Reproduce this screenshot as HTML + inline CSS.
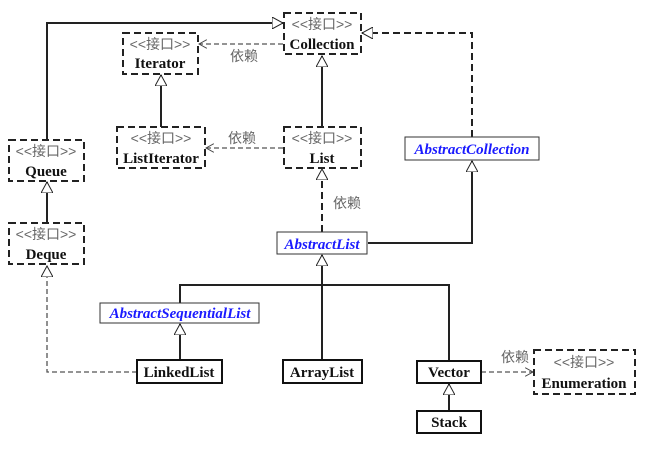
<!DOCTYPE html>
<html><head><meta charset="utf-8"><style>html,body{margin:0;padding:0;background:#fff;}svg{display:block}</style></head>
<body>
<svg width="661" height="467" viewBox="0 0 661 467" xmlns="http://www.w3.org/2000/svg">
<defs>
<marker id="tri" viewBox="0 0 12 12" refX="11" refY="6" markerWidth="12" markerHeight="12" markerUnits="userSpaceOnUse" orient="auto"><path d="M0,0 L11,6 L0,12 Z" fill="#fff" stroke="#222" stroke-width="1"/></marker>
<marker id="opn" viewBox="0 0 10 10" refX="9" refY="5" markerWidth="9" markerHeight="9" markerUnits="userSpaceOnUse" orient="auto"><path d="M0,0 L9,5 L0,10" fill="none" stroke="#444" stroke-width="1"/></marker>
</defs>
<g fill="none" stroke="#222" stroke-width="2">
<!-- solid generalizations -->
<path d="M47 140 V23 H283" marker-end="url(#tri)"/>
<path d="M161 127 V75" marker-end="url(#tri)"/>
<path d="M322 127 V56" marker-end="url(#tri)"/>
<path d="M47 223 V182" marker-end="url(#tri)"/>
<path d="M368 243 H472 V161" marker-end="url(#tri)"/>
<path d="M322 285 V255" marker-end="url(#tri)"/>
<path d="M180 303 V285 H449 V361"/>
<path d="M322 285 V360"/>
<path d="M180 360 V324" marker-end="url(#tri)"/>
<path d="M449 411 V384" marker-end="url(#tri)"/>
</g>
<g fill="none" stroke="#222" stroke-width="2" stroke-dasharray="7,4">
<path d="M472 137 V33 H362" marker-end="url(#tri)"/>
<path d="M322 232 V169" marker-end="url(#tri)"/>
</g>
<g fill="none" stroke="#555" stroke-width="1.3" stroke-dasharray="5,3">
<path d="M137 372 H47 V266" stroke="#555" marker-end="url(#tri)"/>
<path d="M283 44 H199" marker-end="url(#opn)"/>
<path d="M283 148 H206" marker-end="url(#opn)"/>
<path d="M481 372 H533" marker-end="url(#opn)"/>
</g>
<!-- interface boxes -->
<g fill="#fff" stroke="#222" stroke-width="2" stroke-dasharray="7,4">
<rect x="284" y="13" width="77" height="41"/>
<rect x="123" y="33" width="75" height="41"/>
<rect x="117" y="127" width="88" height="41"/>
<rect x="284" y="127" width="77" height="41"/>
<rect x="9" y="140" width="75" height="41"/>
<rect x="9" y="223" width="75" height="41"/>
<rect x="534" y="350" width="101" height="44"/>
</g>
<g fill="#fff" stroke="#333" stroke-width="1">
<rect x="405" y="137" width="134" height="23"/>
<rect x="277" y="232" width="90" height="22"/>
<rect x="100" y="303" width="159" height="20"/>
</g>
<g fill="#fff" stroke="#111" stroke-width="2">
<rect x="137" y="360" width="85" height="23"/>
<rect x="283" y="360" width="79" height="23"/>
<rect x="417" y="361" width="64" height="22"/>
<rect x="417" y="411" width="64" height="22"/>
</g>
<g font-family="'Liberation Sans','Noto Sans CJK SC',sans-serif" font-size="14" fill="#666" text-anchor="middle">
<text x="322" y="29">&lt;&lt;接口&gt;&gt;</text>
<text x="160" y="49">&lt;&lt;接口&gt;&gt;</text>
<text x="161" y="143">&lt;&lt;接口&gt;&gt;</text>
<text x="322" y="143">&lt;&lt;接口&gt;&gt;</text>
<text x="46" y="156">&lt;&lt;接口&gt;&gt;</text>
<text x="46" y="239">&lt;&lt;接口&gt;&gt;</text>
<text x="584" y="367">&lt;&lt;接口&gt;&gt;</text>
<text x="244" y="61">依赖</text>
<text x="242" y="143">依赖</text>
<text x="347" y="208">依赖</text>
<text x="515" y="362">依赖</text>
</g>
<g font-family="'Liberation Serif',serif" font-size="15" font-weight="bold" fill="#111" text-anchor="middle">
<text x="322" y="49">Collection</text>
<text x="160" y="68">Iterator</text>
<text x="161" y="163">ListIterator</text>
<text x="322" y="163">List</text>
<text x="46" y="176">Queue</text>
<text x="46" y="259">Deque</text>
<text x="584" y="388">Enumeration</text>
<text x="179" y="377">LinkedList</text>
<text x="322" y="377">ArrayList</text>
<text x="449" y="377">Vector</text>
<text x="449" y="427">Stack</text>
</g>
<g font-family="'Liberation Serif',serif" font-size="15" font-weight="bold" font-style="italic" fill="#1a1aff" text-anchor="middle">
<text x="472" y="154">AbstractCollection</text>
<text x="322" y="249">AbstractList</text>
<text x="180" y="318">AbstractSequentialList</text>
</g>
</svg>
</body></html>
